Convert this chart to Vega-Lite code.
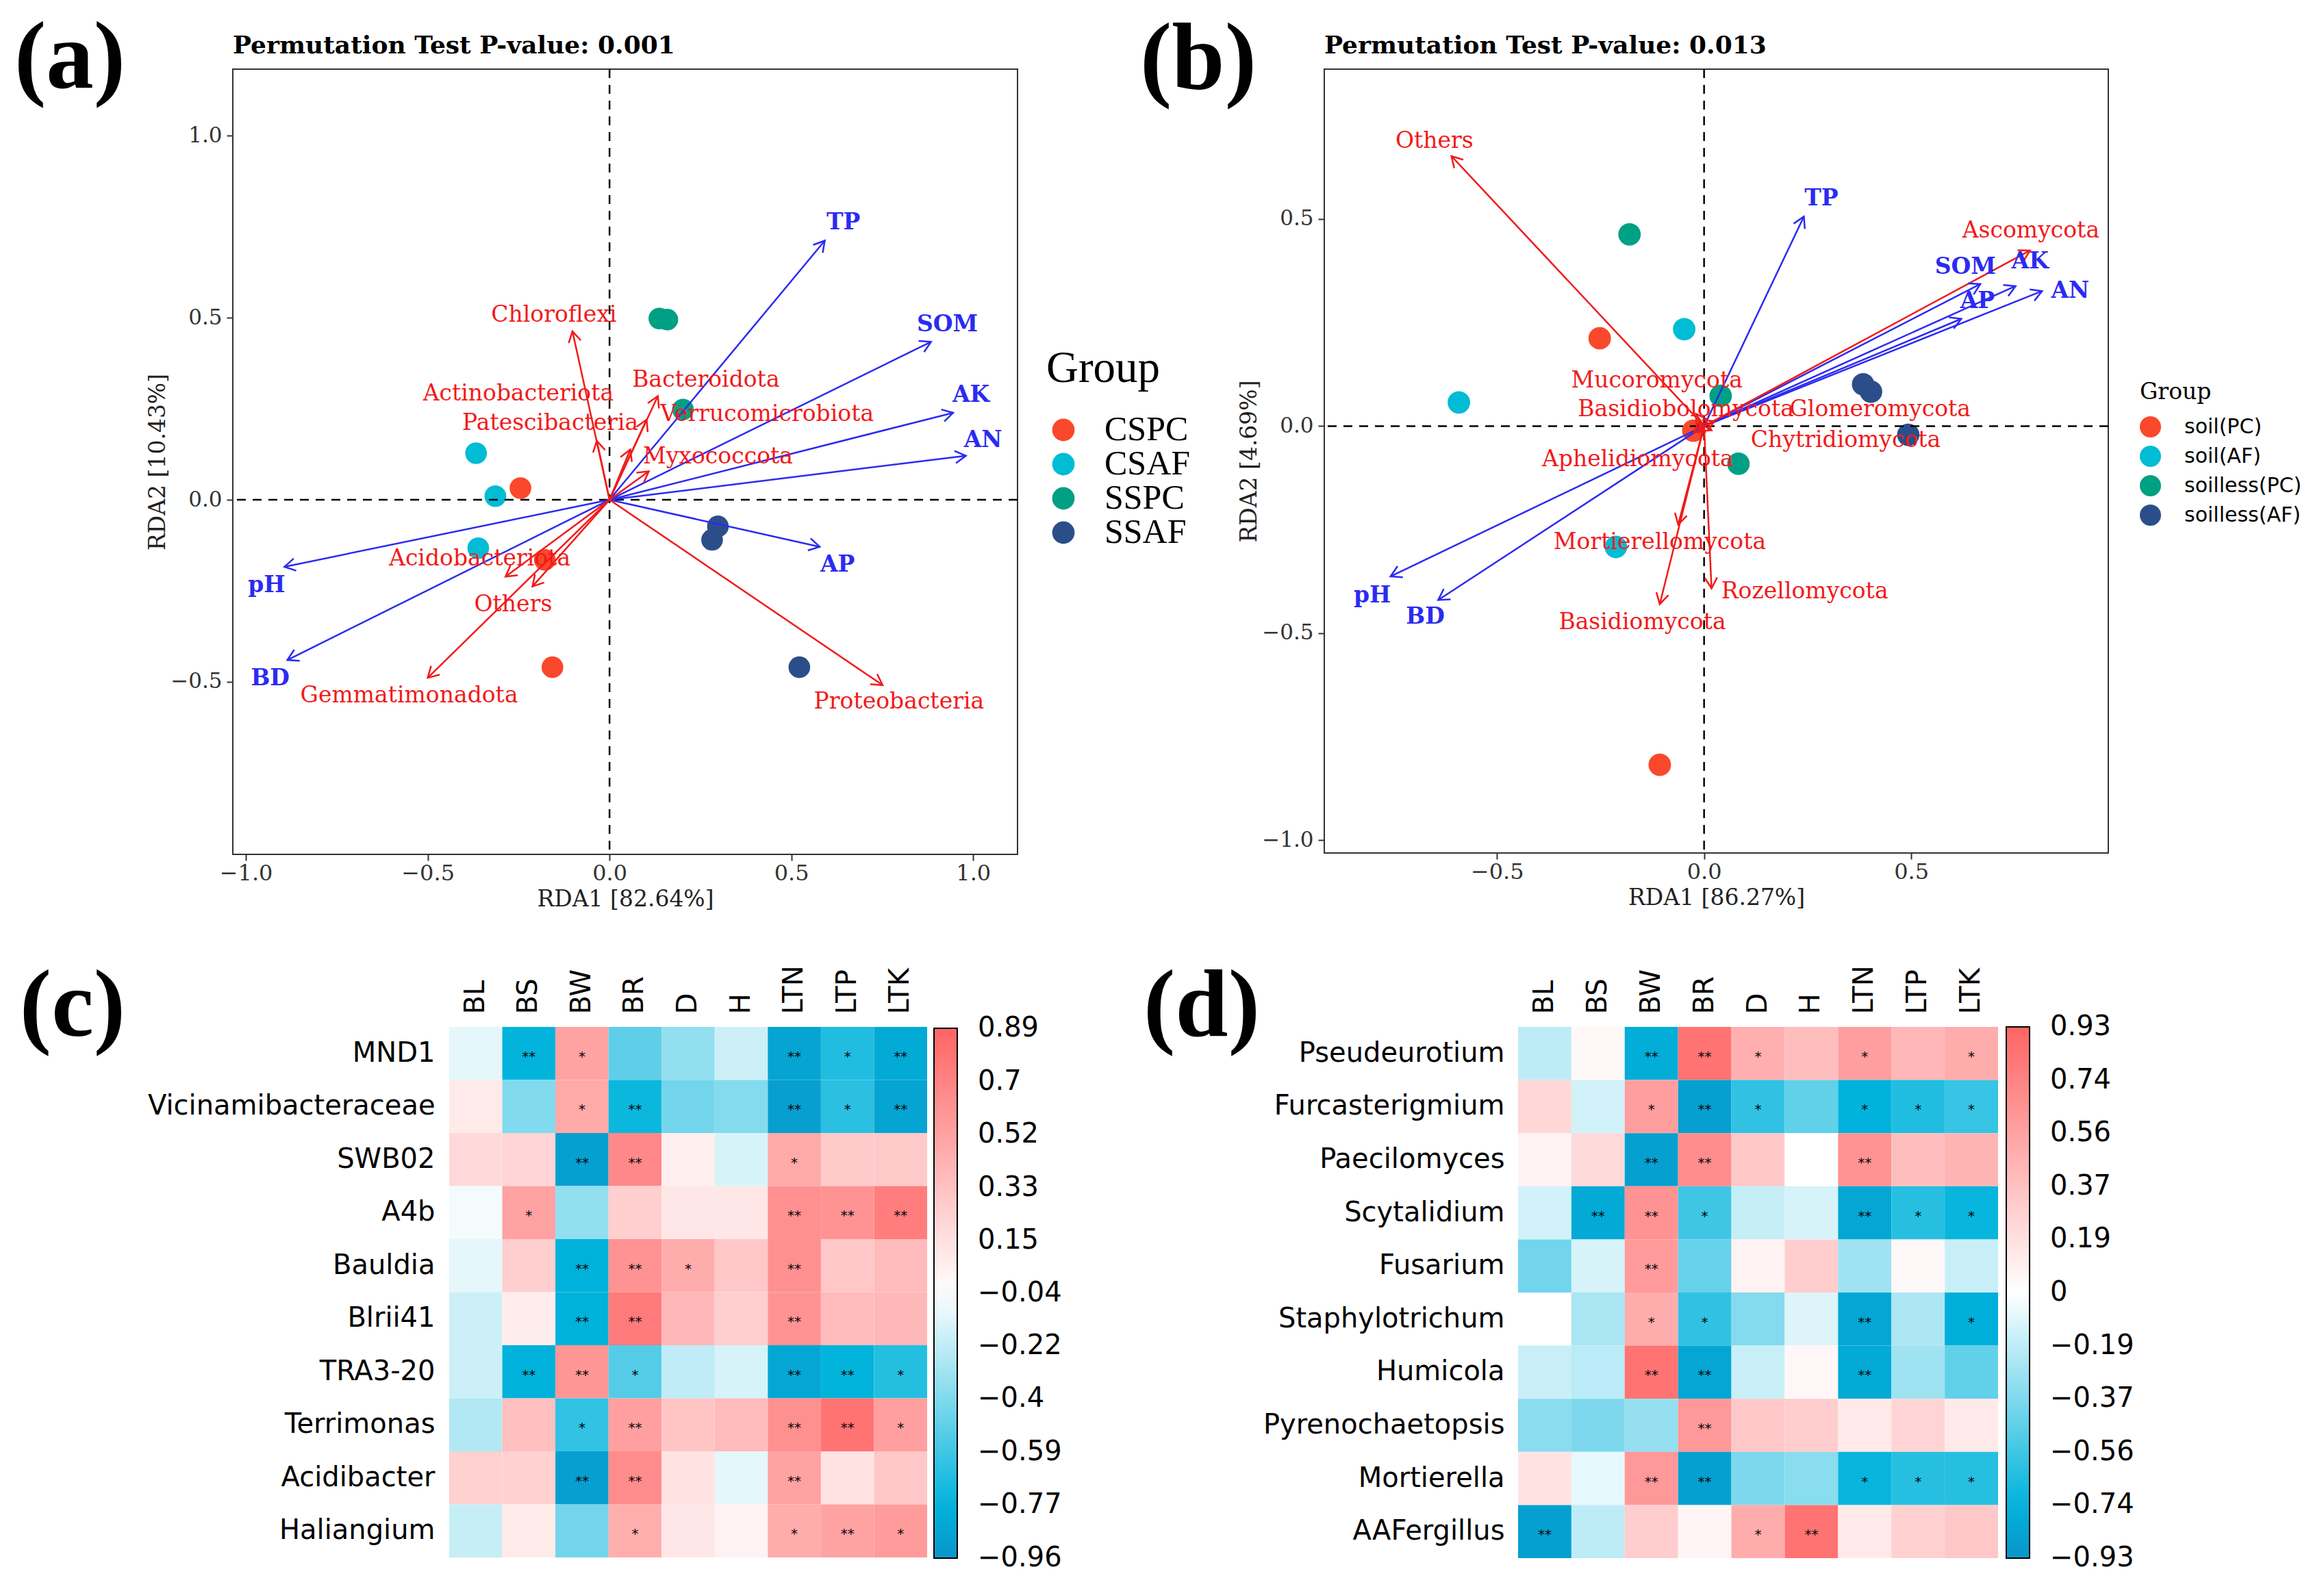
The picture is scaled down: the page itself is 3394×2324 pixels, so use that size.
{
"$schema": "https://vega.github.io/schema/vega-lite/v6.json",
"background": "white",
"padding": {"left": 0, "top": 17, "right": 0, "bottom": 0},
"config": {"view": {"stroke": null}, "axis": {"grid": false}},
"datasets": {
"envA": [
{"name": "TP", "x": 0.592, "y": 0.712, "lx": 0.643, "ly": 0.761},
{"name": "SOM", "x": 0.884, "y": 0.434, "lx": 0.929, "ly": 0.481},
{"name": "AK", "x": 0.945, "y": 0.239, "lx": 0.994, "ly": 0.288},
{"name": "AN", "x": 0.98, "y": 0.121, "lx": 1.027, "ly": 0.164},
{"name": "AP", "x": 0.578, "y": -0.129, "lx": 0.627, "ly": -0.178},
{"name": "pH", "x": -0.894, "y": -0.184, "lx": -0.943, "ly": -0.235},
{"name": "BD", "x": -0.886, "y": -0.44, "lx": -0.933, "ly": -0.491}
],
"spA": [
{"name": "Chloroflexi", "x": -0.102, "y": 0.463, "lx": -0.153, "ly": 0.507},
{"name": "Actinobacteriota", "x": 0.057, "y": 0.138, "lx": -0.251, "ly": 0.292},
{"name": "Patescibacteria", "x": -0.035, "y": 0.162, "lx": -0.163, "ly": 0.211},
{"name": "Bacteroidota", "x": 0.133, "y": 0.285, "lx": 0.265, "ly": 0.329},
{"name": "Verrucomicrobiota", "x": 0.102, "y": 0.22, "lx": 0.433, "ly": 0.235},
{"name": "Myxococcota", "x": 0.108, "y": 0.078, "lx": 0.298, "ly": 0.118},
{"name": "Acidobacteriota", "x": -0.286, "y": -0.211, "lx": -0.357, "ly": -0.162},
{"name": "Others", "x": -0.212, "y": -0.238, "lx": -0.265, "ly": -0.287},
{"name": "Gemmatimonadota", "x": -0.5, "y": -0.489, "lx": -0.551, "ly": -0.538},
{"name": "Proteobacteria", "x": 0.751, "y": -0.509, "lx": 0.796, "ly": -0.554}
],
"ptsA": [
{"group": "CSPC", "x": -0.245, "y": 0.032}, {"group": "CSPC", "x": -0.178, "y": -0.165}, {"group": "CSPC", "x": -0.157, "y": -0.46},
{"group": "CSAF", "x": -0.367, "y": 0.128}, {"group": "CSAF", "x": -0.314, "y": 0.01}, {"group": "CSAF", "x": -0.361, "y": -0.133},
{"group": "SSPC", "x": 0.137, "y": 0.498}, {"group": "SSPC", "x": 0.159, "y": 0.495}, {"group": "SSPC", "x": 0.202, "y": 0.248},
{"group": "SSAF", "x": 0.298, "y": -0.073}, {"group": "SSAF", "x": 0.282, "y": -0.11}, {"group": "SSAF", "x": 0.522, "y": -0.46}
],
"envB": [
{"name": "TP", "x": 0.241, "y": 0.506, "lx": 0.283, "ly": 0.55},
{"name": "SOM", "x": 0.667, "y": 0.343, "lx": 0.631, "ly": 0.385},
{"name": "AK", "x": 0.752, "y": 0.338, "lx": 0.787, "ly": 0.397},
{"name": "AN", "x": 0.816, "y": 0.326, "lx": 0.884, "ly": 0.326},
{"name": "AP", "x": 0.621, "y": 0.259, "lx": 0.66, "ly": 0.302},
{"name": "pH", "x": -0.757, "y": -0.363, "lx": -0.801, "ly": -0.409},
{"name": "BD", "x": -0.642, "y": -0.42, "lx": -0.673, "ly": -0.46}
],
"spB": [
{"name": "Others", "x": -0.61, "y": 0.652, "lx": -0.651, "ly": 0.688},
{"name": "Ascomycota", "x": 0.787, "y": 0.424, "lx": 0.789, "ly": 0.472},
{"name": "Mucoromycota", "x": -0.02, "y": 0.03, "lx": -0.114, "ly": 0.11},
{"name": "Basidiobolomycota", "x": -0.012, "y": 0.008, "lx": -0.044, "ly": 0.04},
{"name": "Glomeromycota", "x": 0.025, "y": 0.012, "lx": 0.425, "ly": 0.04},
{"name": "Chytridiomycota", "x": 0.018, "y": -0.01, "lx": 0.342, "ly": -0.034},
{"name": "Aphelidiomycota", "x": -0.025, "y": -0.015, "lx": -0.16, "ly": -0.08},
{"name": "Mortierellomycota", "x": -0.0625, "y": -0.238, "lx": -0.107, "ly": -0.281},
{"name": "Basidiomycota", "x": -0.107, "y": -0.43, "lx": -0.149, "ly": -0.474},
{"name": "Rozellomycota", "x": 0.018, "y": -0.392, "lx": 0.243, "ly": -0.4}
],
"ptsB": [
{"group": "soil(PC)", "x": -0.252, "y": 0.212}, {"group": "soil(PC)", "x": -0.026, "y": -0.011}, {"group": "soil(PC)", "x": -0.107, "y": -0.818},
{"group": "soil(AF)", "x": -0.592, "y": 0.057}, {"group": "soil(AF)", "x": -0.048, "y": 0.234}, {"group": "soil(AF)", "x": -0.213, "y": -0.292},
{"group": "soilless(PC)", "x": -0.18, "y": 0.463}, {"group": "soilless(PC)", "x": 0.04, "y": 0.073}, {"group": "soilless(PC)", "x": 0.083, "y": -0.091},
{"group": "soilless(AF)", "x": 0.384, "y": 0.101}, {"group": "soilless(AF)", "x": 0.403, "y": 0.083}, {"group": "soilless(AF)", "x": 0.493, "y": -0.021}
],
"hc": [
{"g":"MND1","v":"BL","r":-0.11},{"g":"MND1","v":"BS","r":-0.77,"s":"**"},{"g":"MND1","v":"BW","r":0.52,"s":"*"},{"g":"MND1","v":"BR","r":-0.5},{"g":"MND1","v":"D","r":-0.35},{"g":"MND1","v":"H","r":-0.18},{"g":"MND1","v":"LTN","r":-0.87,"s":"**"},{"g":"MND1","v":"LTP","r":-0.68,"s":"*"},{"g":"MND1","v":"LTK","r":-0.83,"s":"**"},
{"g":"Vicinamibacteraceae","v":"BL","r":0.09},{"g":"Vicinamibacteraceae","v":"BS","r":-0.4},{"g":"Vicinamibacteraceae","v":"BW","r":0.48,"s":"*"},{"g":"Vicinamibacteraceae","v":"BR","r":-0.74,"s":"**"},{"g":"Vicinamibacteraceae","v":"D","r":-0.44},{"g":"Vicinamibacteraceae","v":"H","r":-0.39},{"g":"Vicinamibacteraceae","v":"LTN","r":-0.9,"s":"**"},{"g":"Vicinamibacteraceae","v":"LTP","r":-0.65,"s":"*"},{"g":"Vicinamibacteraceae","v":"LTK","r":-0.87,"s":"**"},
{"g":"SWB02","v":"BL","r":0.19},{"g":"SWB02","v":"BS","r":0.22},{"g":"SWB02","v":"BW","r":-0.89,"s":"**"},{"g":"SWB02","v":"BR","r":0.67,"s":"**"},{"g":"SWB02","v":"D","r":0.06},{"g":"SWB02","v":"H","r":-0.15},{"g":"SWB02","v":"LTN","r":0.48,"s":"*"},{"g":"SWB02","v":"LTP","r":0.28},{"g":"SWB02","v":"LTK","r":0.28},
{"g":"A4b","v":"BL","r":-0.07},{"g":"A4b","v":"BS","r":0.52,"s":"*"},{"g":"A4b","v":"BW","r":-0.35},{"g":"A4b","v":"BR","r":0.26},{"g":"A4b","v":"D","r":0.11},{"g":"A4b","v":"H","r":0.11},{"g":"A4b","v":"LTN","r":0.63,"s":"**"},{"g":"A4b","v":"LTP","r":0.61,"s":"**"},{"g":"A4b","v":"LTK","r":0.74,"s":"**"},
{"g":"Bauldia","v":"BL","r":-0.11},{"g":"Bauldia","v":"BS","r":0.26},{"g":"Bauldia","v":"BW","r":-0.78,"s":"**"},{"g":"Bauldia","v":"BR","r":0.61,"s":"**"},{"g":"Bauldia","v":"D","r":0.46,"s":"*"},{"g":"Bauldia","v":"H","r":0.3},{"g":"Bauldia","v":"LTN","r":0.63,"s":"**"},{"g":"Bauldia","v":"LTP","r":0.3},{"g":"Bauldia","v":"LTK","r":0.37},
{"g":"Blrii41","v":"BL","r":-0.18},{"g":"Blrii41","v":"BS","r":0.07},{"g":"Blrii41","v":"BW","r":-0.78,"s":"**"},{"g":"Blrii41","v":"BR","r":0.76,"s":"**"},{"g":"Blrii41","v":"D","r":0.39},{"g":"Blrii41","v":"H","r":0.26},{"g":"Blrii41","v":"LTN","r":0.61,"s":"**"},{"g":"Blrii41","v":"LTP","r":0.37},{"g":"Blrii41","v":"LTK","r":0.39},
{"g":"TRA3-20","v":"BL","r":-0.18},{"g":"TRA3-20","v":"BS","r":-0.78,"s":"**"},{"g":"TRA3-20","v":"BW","r":0.59,"s":"**"},{"g":"TRA3-20","v":"BR","r":-0.53,"s":"*"},{"g":"TRA3-20","v":"D","r":-0.22},{"g":"TRA3-20","v":"H","r":-0.15},{"g":"TRA3-20","v":"LTN","r":-0.85,"s":"**"},{"g":"TRA3-20","v":"LTP","r":-0.77,"s":"**"},{"g":"TRA3-20","v":"LTK","r":-0.67,"s":"*"},
{"g":"Terrimonas","v":"BL","r":-0.26},{"g":"Terrimonas","v":"BS","r":0.35},{"g":"Terrimonas","v":"BW","r":-0.63,"s":"*"},{"g":"Terrimonas","v":"BR","r":0.54,"s":"**"},{"g":"Terrimonas","v":"D","r":0.31},{"g":"Terrimonas","v":"H","r":0.37},{"g":"Terrimonas","v":"LTN","r":0.63,"s":"**"},{"g":"Terrimonas","v":"LTP","r":0.8,"s":"**"},{"g":"Terrimonas","v":"LTK","r":0.54,"s":"*"},
{"g":"Acidibacter","v":"BL","r":0.24},{"g":"Acidibacter","v":"BS","r":0.24},{"g":"Acidibacter","v":"BW","r":-0.9,"s":"**"},{"g":"Acidibacter","v":"BR","r":0.65,"s":"**"},{"g":"Acidibacter","v":"D","r":0.13},{"g":"Acidibacter","v":"H","r":-0.11},{"g":"Acidibacter","v":"LTN","r":0.52,"s":"**"},{"g":"Acidibacter","v":"LTP","r":0.13},{"g":"Acidibacter","v":"LTK","r":0.3},
{"g":"Haliangium","v":"BL","r":-0.2},{"g":"Haliangium","v":"BS","r":0.09},{"g":"Haliangium","v":"BW","r":-0.44},{"g":"Haliangium","v":"BR","r":0.45,"s":"*"},{"g":"Haliangium","v":"D","r":0.11},{"g":"Haliangium","v":"H","r":0.04},{"g":"Haliangium","v":"LTN","r":0.46,"s":"*"},{"g":"Haliangium","v":"LTP","r":0.52,"s":"**"},{"g":"Haliangium","v":"LTK","r":0.56,"s":"*"}
],
"hd": [
{"g":"Pseudeurotium","v":"BL","r":-0.19},{"g":"Pseudeurotium","v":"BS","r":0.04},{"g":"Pseudeurotium","v":"BW","r":-0.78,"s":"**"},{"g":"Pseudeurotium","v":"BR","r":0.84,"s":"**"},{"g":"Pseudeurotium","v":"D","r":0.48,"s":"*"},{"g":"Pseudeurotium","v":"H","r":0.39},{"g":"Pseudeurotium","v":"LTN","r":0.58,"s":"*"},{"g":"Pseudeurotium","v":"LTP","r":0.43},{"g":"Pseudeurotium","v":"LTK","r":0.5,"s":"*"},
{"g":"Furcasterigmium","v":"BL","r":0.24},{"g":"Furcasterigmium","v":"BS","r":-0.13},{"g":"Furcasterigmium","v":"BW","r":0.58,"s":"*"},{"g":"Furcasterigmium","v":"BR","r":-0.86,"s":"**"},{"g":"Furcasterigmium","v":"D","r":-0.6,"s":"*"},{"g":"Furcasterigmium","v":"H","r":-0.46},{"g":"Furcasterigmium","v":"LTN","r":-0.74,"s":"*"},{"g":"Furcasterigmium","v":"LTP","r":-0.65,"s":"*"},{"g":"Furcasterigmium","v":"LTK","r":-0.58,"s":"*"},
{"g":"Paecilomyces","v":"BL","r":0.07},{"g":"Paecilomyces","v":"BS","r":0.22},{"g":"Paecilomyces","v":"BW","r":-0.86,"s":"**"},{"g":"Paecilomyces","v":"BR","r":0.69,"s":"**"},{"g":"Paecilomyces","v":"D","r":0.33},{"g":"Paecilomyces","v":"H","r":0.0},{"g":"Paecilomyces","v":"LTN","r":0.65,"s":"**"},{"g":"Paecilomyces","v":"LTP","r":0.39},{"g":"Paecilomyces","v":"LTK","r":0.45},
{"g":"Scytalidium","v":"BL","r":-0.13},{"g":"Scytalidium","v":"BS","r":-0.8,"s":"**"},{"g":"Scytalidium","v":"BW","r":0.65,"s":"**"},{"g":"Scytalidium","v":"BR","r":-0.56,"s":"*"},{"g":"Scytalidium","v":"D","r":-0.17},{"g":"Scytalidium","v":"H","r":-0.12},{"g":"Scytalidium","v":"LTN","r":-0.82,"s":"**"},{"g":"Scytalidium","v":"LTP","r":-0.63,"s":"*"},{"g":"Scytalidium","v":"LTK","r":-0.72,"s":"*"},
{"g":"Fusarium","v":"BL","r":-0.41},{"g":"Fusarium","v":"BS","r":-0.12},{"g":"Fusarium","v":"BW","r":0.6,"s":"**"},{"g":"Fusarium","v":"BR","r":-0.45},{"g":"Fusarium","v":"D","r":0.08},{"g":"Fusarium","v":"H","r":0.3},{"g":"Fusarium","v":"LTN","r":-0.28},{"g":"Fusarium","v":"LTP","r":0.04},{"g":"Fusarium","v":"LTK","r":-0.16},
{"g":"Staphylotrichum","v":"BL","r":0.0},{"g":"Staphylotrichum","v":"BS","r":-0.25},{"g":"Staphylotrichum","v":"BW","r":0.5,"s":"*"},{"g":"Staphylotrichum","v":"BR","r":-0.6,"s":"*"},{"g":"Staphylotrichum","v":"D","r":-0.36},{"g":"Staphylotrichum","v":"H","r":-0.1},{"g":"Staphylotrichum","v":"LTN","r":-0.82,"s":"**"},{"g":"Staphylotrichum","v":"LTP","r":-0.24},{"g":"Staphylotrichum","v":"LTK","r":-0.76,"s":"*"},
{"g":"Humicola","v":"BL","r":-0.16},{"g":"Humicola","v":"BS","r":-0.2},{"g":"Humicola","v":"BW","r":0.84,"s":"**"},{"g":"Humicola","v":"BR","r":-0.82,"s":"**"},{"g":"Humicola","v":"D","r":-0.16},{"g":"Humicola","v":"H","r":0.05},{"g":"Humicola","v":"LTN","r":-0.8,"s":"**"},{"g":"Humicola","v":"LTP","r":-0.28},{"g":"Humicola","v":"LTK","r":-0.46},
{"g":"Pyrenochaetopsis","v":"BL","r":-0.34},{"g":"Pyrenochaetopsis","v":"BS","r":-0.38},{"g":"Pyrenochaetopsis","v":"BW","r":-0.31},{"g":"Pyrenochaetopsis","v":"BR","r":0.62,"s":"**"},{"g":"Pyrenochaetopsis","v":"D","r":0.33},{"g":"Pyrenochaetopsis","v":"H","r":0.3},{"g":"Pyrenochaetopsis","v":"LTN","r":0.13},{"g":"Pyrenochaetopsis","v":"LTP","r":0.26},{"g":"Pyrenochaetopsis","v":"LTK","r":0.13},
{"g":"Mortierella","v":"BL","r":0.17},{"g":"Mortierella","v":"BS","r":-0.07},{"g":"Mortierella","v":"BW","r":0.62,"s":"**"},{"g":"Mortierella","v":"BR","r":-0.86,"s":"**"},{"g":"Mortierella","v":"D","r":-0.38},{"g":"Mortierella","v":"H","r":-0.34},{"g":"Mortierella","v":"LTN","r":-0.72,"s":"*"},{"g":"Mortierella","v":"LTP","r":-0.63,"s":"*"},{"g":"Mortierella","v":"LTK","r":-0.63,"s":"*"},
{"g":"AAFergillus","v":"BL","r":-0.86,"s":"**"},{"g":"AAFergillus","v":"BS","r":-0.19},{"g":"AAFergillus","v":"BW","r":0.3},{"g":"AAFergillus","v":"BR","r":0.06},{"g":"AAFergillus","v":"D","r":0.5,"s":"*"},{"g":"AAFergillus","v":"H","r":0.84,"s":"**"},{"g":"AAFergillus","v":"LTN","r":0.13},{"g":"AAFergillus","v":"LTP","r":0.28},{"g":"AAFergillus","v":"LTK","r":0.33}
]
},
"bounds": "full",
"align": "none",
"spacing": 70,
"resolve": {"scale": {"color": "independent"}, "legend": {"color": "independent"}},
"vconcat": [
{
"bounds": "flush", "align": "none", "spacing": 0,
"resolve": {"scale": {"color": "independent"}, "legend": {"color": "independent"}},
"hconcat": [
{"width": 340, "height": 1, "view": {"fill": "transparent", "stroke": null}, "data": {"values": [{"t": "(a)"}]},
 "mark": {"type": "text", "font": "Liberation Serif", "fontWeight": "bold", "fontSize": 139, "align": "center", "baseline": "alphabetic", "dx": -68, "dy": 26.5, "color": "black"},
 "encoding": {"text": {"field": "t"}}},
{"width": 1146, "height": 1147,
 "view": {"stroke": "#333333", "strokeWidth": 2},
 "title": {"text": "Permutation Test P-value: 0.001", "anchor": "start", "frame": "group", "font": "DejaVu Serif", "fontWeight": "bold", "fontSize": 36, "offset": 14, "color": "black"},
 "layer": [
  {"data": {"name": "ptsA"}, "mark": {"type": "circle", "size": 1000, "opacity": 1},
   "encoding": {
    "x": {"field": "x", "type": "quantitative", "scale": {"domain": [-1.036, 1.122], "nice": false, "zero": false},
      "axis": {"title": "RDA1 [82.64%]", "values": [-1, -0.5, 0, 0.5, 1], "format": ".1f", "labelFont": "DejaVu Serif", "labelFontSize": 32, "labelColor": "#333333", "titleFont": "DejaVu Serif", "titleFontSize": 33, "titleFontWeight": "normal", "titleColor": "#222222", "tickSize": 9, "tickWidth": 2, "tickColor": "#333333", "domain": false, "labelPadding": 3, "titlePadding": 6, "labelFlush": false}},
    "y": {"field": "y", "type": "quantitative", "scale": {"domain": [-0.974, 1.183], "nice": false, "zero": false},
      "axis": {"title": "RDA2 [10.43%]", "values": [-0.5, 0, 0.5, 1], "format": ".1f", "labelFont": "DejaVu Serif", "labelFontSize": 31, "labelColor": "#333333", "titleFont": "DejaVu Serif", "titleFontSize": 33, "titleFontWeight": "normal", "titleColor": "#222222", "tickSize": 9, "tickWidth": 2, "tickColor": "#333333", "domain": false, "labelPadding": 7, "titlePadding": 1, "labelFlush": false}},
    "color": {"field": "group", "type": "nominal", "scale": {"domain": ["CSPC", "CSAF", "SSPC", "SSAF"], "range": ["#F9482C", "#00BCD5", "#00A084", "#2B4E8A"]},
      "legend": {"title": "Group", "orient": "none", "legendX": 1188, "legendY": 406, "titleFont": "Liberation Serif", "titleFontSize": 65, "titleFontWeight": "normal", "titleColor": "black", "titlePadding": 31, "labelFont": "Liberation Serif", "labelFontSize": 50, "labelColor": "black", "labelLimit": 1000, "symbolType": "circle", "symbolSize": 1075, "symbolStrokeWidth": 0, "symbolOpacity": 1, "rowPadding": 0, "labelOffset": 35}}
   }},
  {"data": {"values": [{"z": 0}]}, "mark": {"type": "rule", "strokeDash": [13, 10], "strokeWidth": 2.5, "color": "black"}, "encoding": {"x": {"field": "z", "type": "quantitative"}}},
  {"data": {"values": [{"z": 0}]}, "mark": {"type": "rule", "strokeDash": [13, 10], "strokeWidth": 2.5, "color": "black"}, "encoding": {"y": {"field": "z", "type": "quantitative"}}},
  {"data": {"name": "envA"}, "mark": {"type": "rule", "color": "#2B2BF2", "strokeWidth": 2.5},
   "encoding": {"x": {"field": "x", "type": "quantitative"}, "y": {"field": "y", "type": "quantitative"}, "x2": {"datum": 0}, "y2": {"datum": 0}}},
  {"data": {"name": "spA"}, "mark": {"type": "rule", "color": "#F21A1A", "strokeWidth": 2.5},
   "encoding": {"x": {"field": "x", "type": "quantitative"}, "y": {"field": "y", "type": "quantitative"}, "x2": {"datum": 0}, "y2": {"datum": 0}}},
  {"data": {"name": "envA"}, "transform": [{"calculate": "90 - atan2(datum.y, datum.x) * 180 / PI", "as": "ang"}],
   "mark": {"type": "point", "shape": "M-0.5,0.87L0,0L0.5,0.87", "filled": false, "color": "#2B2BF2", "strokeWidth": 2.5, "size": 1300, "opacity": 1},
   "encoding": {"x": {"field": "x", "type": "quantitative"}, "y": {"field": "y", "type": "quantitative"}, "angle": {"field": "ang", "type": "quantitative", "scale": null}}},
  {"data": {"name": "spA"}, "transform": [{"calculate": "90 - atan2(datum.y, datum.x) * 180 / PI", "as": "ang"}],
   "mark": {"type": "point", "shape": "M-0.5,0.87L0,0L0.5,0.87", "filled": false, "color": "#F21A1A", "strokeWidth": 2.5, "size": 1300, "opacity": 1},
   "encoding": {"x": {"field": "x", "type": "quantitative"}, "y": {"field": "y", "type": "quantitative"}, "angle": {"field": "ang", "type": "quantitative", "scale": null}}},
  {"data": {"name": "envA"}, "mark": {"type": "text", "font": "DejaVu Serif", "fontWeight": "bold", "fontSize": 33, "color": "#2B2BF2", "align": "center", "baseline": "middle"},
   "encoding": {"x": {"field": "lx", "type": "quantitative"}, "y": {"field": "ly", "type": "quantitative"}, "text": {"field": "name"}}},
  {"data": {"name": "spA"}, "mark": {"type": "text", "font": "DejaVu Serif", "fontSize": 33, "color": "#F21A1A", "align": "center", "baseline": "middle"},
   "encoding": {"x": {"field": "lx", "type": "quantitative"}, "y": {"field": "ly", "type": "quantitative"}, "text": {"field": "name"}}}
 ]},
{"width": 448, "height": 1, "view": {"fill": "transparent", "stroke": null}, "data": {"values": [{"t": "(b)"}]},
 "mark": {"type": "text", "font": "Liberation Serif", "fontWeight": "bold", "fontSize": 139, "align": "center", "baseline": "alphabetic", "dx": 40, "dy": 28.5, "color": "black"},
 "encoding": {"text": {"field": "t"}}},
{"width": 1145, "height": 1145,
 "view": {"stroke": "#333333", "strokeWidth": 2},
 "title": {"text": "Permutation Test P-value: 0.013", "anchor": "start", "frame": "group", "font": "DejaVu Serif", "fontWeight": "bold", "fontSize": 36, "offset": 14, "color": "black"},
 "layer": [
  {"data": {"name": "ptsB"}, "mark": {"type": "circle", "size": 1075, "opacity": 1},
   "encoding": {
    "x": {"field": "x", "type": "quantitative", "scale": {"domain": [-0.917, 0.976], "nice": false, "zero": false},
      "axis": {"title": "RDA1 [86.27%]", "values": [-0.5, 0, 0.5], "format": ".1f", "labelFont": "DejaVu Serif", "labelFontSize": 32, "labelColor": "#333333", "titleFont": "DejaVu Serif", "titleFontSize": 33, "titleFontWeight": "normal", "titleColor": "#222222", "tickSize": 9, "tickWidth": 2, "tickColor": "#333333", "domain": false, "labelPadding": 3, "titlePadding": 6, "labelFlush": false}},
    "y": {"field": "y", "type": "quantitative", "scale": {"domain": [-1.031, 0.862], "nice": false, "zero": false},
      "axis": {"title": "RDA2 [4.69%]", "values": [-1, -0.5, 0, 0.5], "format": ".1f", "labelFont": "DejaVu Serif", "labelFontSize": 31, "labelColor": "#333333", "titleFont": "DejaVu Serif", "titleFontSize": 33, "titleFontWeight": "normal", "titleColor": "#222222", "tickSize": 9, "tickWidth": 2, "tickColor": "#333333", "domain": false, "labelPadding": 7, "titlePadding": 1, "labelFlush": false}},
    "color": {"field": "group", "type": "nominal", "scale": {"domain": ["soil(PC)", "soil(AF)", "soilless(PC)", "soilless(AF)"], "range": ["#F9482C", "#00BCD5", "#00A084", "#2B4E8A"]},
      "legend": {"title": "Group", "orient": "none", "legendX": 1191, "legendY": 456, "titleFont": "DejaVu Serif", "titleFontSize": 33, "titleFontWeight": "normal", "titleColor": "black", "titlePadding": 18, "labelFont": "DejaVu Sans", "labelFontSize": 30, "labelColor": "black", "labelLimit": 1000, "symbolType": "circle", "symbolSize": 960, "symbolStrokeWidth": 0, "symbolOpacity": 1, "rowPadding": 12, "labelOffset": 34}}
   }},
  {"data": {"values": [{"z": 0}]}, "mark": {"type": "rule", "strokeDash": [13, 10], "strokeWidth": 2.5, "color": "black"}, "encoding": {"x": {"field": "z", "type": "quantitative"}}},
  {"data": {"values": [{"z": 0}]}, "mark": {"type": "rule", "strokeDash": [13, 10], "strokeWidth": 2.5, "color": "black"}, "encoding": {"y": {"field": "z", "type": "quantitative"}}},
  {"data": {"name": "envB"}, "mark": {"type": "rule", "color": "#2B2BF2", "strokeWidth": 2.5},
   "encoding": {"x": {"field": "x", "type": "quantitative"}, "y": {"field": "y", "type": "quantitative"}, "x2": {"datum": 0}, "y2": {"datum": 0}}},
  {"data": {"name": "spB"}, "mark": {"type": "rule", "color": "#F21A1A", "strokeWidth": 2.5},
   "encoding": {"x": {"field": "x", "type": "quantitative"}, "y": {"field": "y", "type": "quantitative"}, "x2": {"datum": 0}, "y2": {"datum": 0}}},
  {"data": {"name": "envB"}, "transform": [{"calculate": "90 - atan2(datum.y, datum.x) * 180 / PI", "as": "ang"}],
   "mark": {"type": "point", "shape": "M-0.5,0.87L0,0L0.5,0.87", "filled": false, "color": "#2B2BF2", "strokeWidth": 2.5, "size": 1300, "opacity": 1},
   "encoding": {"x": {"field": "x", "type": "quantitative"}, "y": {"field": "y", "type": "quantitative"}, "angle": {"field": "ang", "type": "quantitative", "scale": null}}},
  {"data": {"name": "spB"}, "transform": [{"calculate": "90 - atan2(datum.y, datum.x) * 180 / PI", "as": "ang"}],
   "mark": {"type": "point", "shape": "M-0.5,0.87L0,0L0.5,0.87", "filled": false, "color": "#F21A1A", "strokeWidth": 2.5, "size": 1300, "opacity": 1},
   "encoding": {"x": {"field": "x", "type": "quantitative"}, "y": {"field": "y", "type": "quantitative"}, "angle": {"field": "ang", "type": "quantitative", "scale": null}}},
  {"data": {"name": "envB"}, "mark": {"type": "text", "font": "DejaVu Serif", "fontWeight": "bold", "fontSize": 33, "color": "#2B2BF2", "align": "center", "baseline": "middle"},
   "encoding": {"x": {"field": "lx", "type": "quantitative"}, "y": {"field": "ly", "type": "quantitative"}, "text": {"field": "name"}}},
  {"data": {"name": "spB"}, "mark": {"type": "text", "font": "DejaVu Serif", "fontSize": 33, "color": "#F21A1A", "align": "center", "baseline": "middle"},
   "encoding": {"x": {"field": "lx", "type": "quantitative"}, "y": {"field": "ly", "type": "quantitative"}, "text": {"field": "name"}}}
 ]}
]
},
{
"bounds": "flush", "align": "none", "spacing": 0,
"resolve": {"scale": {"color": "independent"}, "legend": {"color": "independent"}},
"hconcat": [
{"width": 656, "height": 1, "view": {"fill": "transparent", "stroke": null}, "data": {"values": [{"t": "(c)"}]},
 "mark": {"type": "text", "font": "Liberation Serif", "fontWeight": "bold", "fontSize": 139, "align": "center", "baseline": "alphabetic", "dy": 12, "dx": -222, "color": "black"},
 "encoding": {"text": {"field": "t"}}},
{"width": 698, "height": 775,
 "data": {"name": "hc"},
 "encoding": {
  "x": {"field": "v", "type": "nominal", "sort": ["BL","BS","BW","BR","D","H","LTN","LTP","LTK"], "scale": {"paddingInner": 0, "paddingOuter": 0},
    "axis": {"orient": "top", "title": null, "labelAngle": -90, "labelAlign": "left", "labelBaseline": "middle", "labelFont": "DejaVu Sans", "labelFontSize": 40, "labelColor": "black", "ticks": false, "domain": false, "labelPadding": 19}},
  "y": {"field": "g", "type": "nominal", "sort": ["MND1","Vicinamibacteraceae","SWB02","A4b","Bauldia","Blrii41","TRA3-20","Terrimonas","Acidibacter","Haliangium"], "scale": {"paddingInner": 0, "paddingOuter": 0},
    "axis": {"title": null, "labelFont": "DejaVu Sans", "labelFontSize": 40, "labelColor": "black", "labelLimit": 1000, "ticks": false, "domain": false, "labelPadding": 21}}
 },
 "layer": [
  {"mark": {"type": "rect"},
   "encoding": {"color": {"field": "r", "type": "quantitative",
     "scale": {"domain": [-0.9606, -0.775, -0.035, 0.8906], "range": ["#0A95C9", "#00B3DC", "#FFFFFF", "#FF6464"], "interpolate": "rgb"},
     "legend": {"orient": "none", "legendX": 708, "legendY": 2, "direction": "vertical", "title": null, "gradientLength": 774, "gradientThickness": 34, "gradientStrokeColor": "black", "gradientStrokeWidth": 2, "values": [0.89, 0.704, 0.52, 0.334, 0.15, -0.036, -0.22, -0.404, -0.59, -0.774, -0.96], "format": ".2~f", "labelFont": "DejaVu Sans", "labelFontSize": 40, "labelColor": "black", "labelOffset": 30, "labelBaseline": "middle", "labelOverlap": false}}}},
  {"transform": [{"filter": "isValid(datum.s)"}], "mark": {"type": "text", "font": "DejaVu Sans", "fontSize": 20, "color": "black", "baseline": "middle", "dy": 5},
   "encoding": {"text": {"field": "s"}}}
 ]},
{"width": 863, "height": 1, "view": {"fill": "transparent", "stroke": null}, "data": {"values": [{"t": "(d)"}]},
 "mark": {"type": "text", "font": "Liberation Serif", "fontWeight": "bold", "fontSize": 139, "align": "center", "baseline": "alphabetic", "dy": 12, "dx": -30.5, "color": "black"},
 "encoding": {"text": {"field": "t"}}},
{"width": 701, "height": 776,
 "data": {"name": "hd"},
 "encoding": {
  "x": {"field": "v", "type": "nominal", "sort": ["BL","BS","BW","BR","D","H","LTN","LTP","LTK"], "scale": {"paddingInner": 0, "paddingOuter": 0},
    "axis": {"orient": "top", "title": null, "labelAngle": -90, "labelAlign": "left", "labelBaseline": "middle", "labelFont": "DejaVu Sans", "labelFontSize": 40, "labelColor": "black", "ticks": false, "domain": false, "labelPadding": 19}},
  "y": {"field": "g", "type": "nominal", "sort": ["Pseudeurotium","Furcasterigmium","Paecilomyces","Scytalidium","Fusarium","Staphylotrichum","Humicola","Pyrenochaetopsis","Mortierella","AAFergillus"], "scale": {"paddingInner": 0, "paddingOuter": 0},
    "axis": {"title": null, "labelFont": "DejaVu Sans", "labelFontSize": 40, "labelColor": "black", "labelLimit": 1000, "ticks": false, "domain": false, "labelPadding": 20}}
 },
 "layer": [
  {"mark": {"type": "rect"},
   "encoding": {"color": {"field": "r", "type": "quantitative",
     "scale": {"domain": [-0.9306, -0.744, 0, 0.9306], "range": ["#0A95C9", "#00B3DC", "#FFFFFF", "#FF6464"], "interpolate": "rgb"},
     "legend": {"orient": "none", "legendX": 713, "legendY": 0, "direction": "vertical", "title": null, "gradientLength": 776, "gradientThickness": 34, "gradientStrokeColor": "black", "gradientStrokeWidth": 2, "values": [0.93, 0.744, 0.558, 0.372, 0.186, 0, -0.186, -0.372, -0.558, -0.744, -0.93], "format": ".2~f", "labelFont": "DejaVu Sans", "labelFontSize": 40, "labelColor": "black", "labelOffset": 30, "labelBaseline": "middle", "labelOverlap": false}}}},
  {"transform": [{"filter": "isValid(datum.s)"}], "mark": {"type": "text", "font": "DejaVu Sans", "fontSize": 20, "color": "black", "baseline": "middle", "dy": 5},
   "encoding": {"text": {"field": "s"}}}
 ]}
]
}
]
}
